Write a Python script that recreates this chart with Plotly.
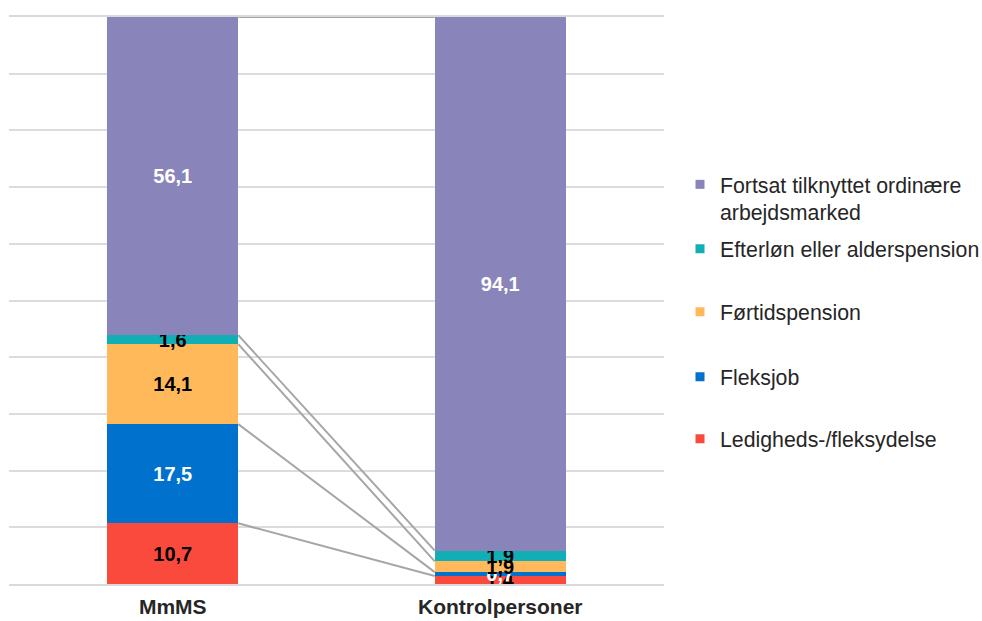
import plotly.graph_objects as go

# Categories and series (percent), stacked bottom to top
categories = ["MmMS", "Kontrolpersoner"]
series_names = [
    "Ledigheds-/fleksydelse",
    "Fleksjob",
    "Førtidspension",
    "Efterløn eller alderspension",
    "Fortsat tilknyttet ordinære<br>arbejdsmarked",
]
ledigheds = [10.7, 1.4]
fleksjob = [17.5, 0.7]
foertidspension = [14.1, 1.9]
efterloen = [1.6, 1.9]
fortsat = [56.1, 94.1]

series_values = [ledigheds, fleksjob, foertidspension, efterloen, fortsat]
series_colors = ["#FA4A3D", "#0072CE", "#FFB95A", "#12AEB5", "#8985BB"]
label_colors = ["black", "white", "black", "black", "white"]

FONT = "Arial, Liberation Sans, sans-serif"
W, H = 982, 621
x_pos = [0, 1]
bar_w = 0.4

fig = go.Figure()

for name, vals, col, tcol in zip(series_names, series_values, series_colors, label_colors):
    fig.add_trace(go.Bar(
        x=x_pos, y=vals, width=bar_w,
        marker=dict(color=col, line=dict(width=0)),
        text=["<b>" + f"{v:.1f}".replace(".", ",") + "</b>" for v in vals],
        textposition="inside", insidetextanchor="middle",
        constraintext="none", textangle=0,
        textfont=dict(family=FONT, size=20, color=tcol),
        showlegend=False, hoverinfo="skip",
    ))

# Series lines joining the segment tops of the two columns
cum_a, cum_b = 0.0, 0.0
tops = []
for vals in series_values:
    cum_a += vals[0]
    cum_b += vals[1]
    tops.append((cum_a, cum_b))
for ya, yb in tops:
    fig.add_trace(go.Scatter(
        x=[x_pos[0] + bar_w / 2, x_pos[1] - bar_w / 2], y=[ya, yb],
        mode="lines", line=dict(color="#A6A6A6", width=2),
        showlegend=False, hoverinfo="skip",
    ))

# Legend: one legend box per series, listed top to bottom (container coordinates)
plot_left, plot_width = 9, 655
plot_top, plot_bottom = 17, 584
legend_centers_px = [439, 377, 312, 249, 198.5]
legend_keys = ["legend5", "legend4", "legend3", "legend2", "legend"]
layout_legends = {}
for name, col, key, cy in zip(series_names, series_colors, legend_keys, legend_centers_px):
    fig.add_trace(go.Scatter(
        x=[None], y=[None], mode="markers", name=name,
        marker=dict(symbol="square", size=9, color=col),
        legend=key, showlegend=True, hoverinfo="skip",
    ))
    layout_legends[key] = dict(
        xref="container", yref="container",
        x=680 / W, xanchor="left",
        y=1 - cy / H, yanchor="middle",
        bgcolor="rgba(0,0,0,0)", borderwidth=0, valign="top",
        font=dict(family=FONT, size=21.3, color="#262626"),
        itemwidth=30,
    )

fig.update_layout(
    width=W, height=H,
    margin=dict(l=plot_left, r=W - plot_left - plot_width, t=plot_top, b=H - plot_bottom,
                autoexpand=False),
    paper_bgcolor="white", plot_bgcolor="white",
    barmode="stack", bargap=0.6,
    font=dict(family=FONT, color="#262626"),
    xaxis=dict(
        range=[-0.5, 1.5], tickvals=x_pos,
        ticktext=[f"<b>{c}</b>" for c in categories],
        tickfont=dict(family=FONT, size=21, color="#262626"),
        showgrid=False, zeroline=False,
        showline=True, mirror=True, linecolor="#D9D9D9", linewidth=2,
        ticks="", ticklabelstandoff=3, automargin=False, fixedrange=True,
    ),
    yaxis=dict(
        range=[0, 100], dtick=10, showticklabels=False,
        showgrid=True, gridcolor="#DCDCDC", gridwidth=2,
        zeroline=False, showline=False, ticks="", automargin=False,
    ),
    **layout_legends,
)

fig.write_html("out.html")
